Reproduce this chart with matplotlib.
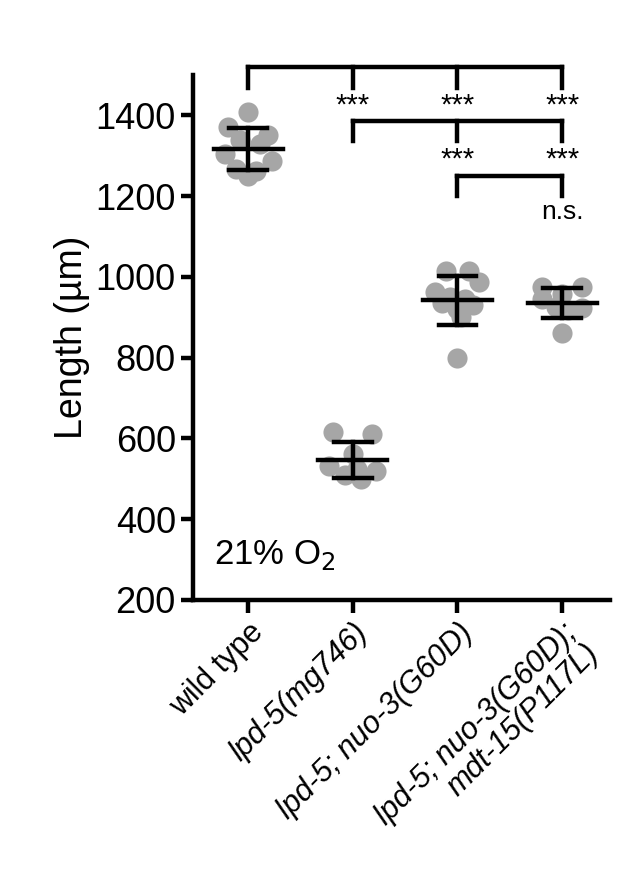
import matplotlib.pyplot as plt
import numpy as np

plt.rcParams['font.family'] = ['Liberation Sans', 'DejaVu Sans']

labels = ["wild type", "lpd-5(mg746)", "lpd-5; nuo-3(G60D)", "lpd-5; nuo-3(G60D);\nmdt-15(P117L)"]
wt = [1408, 1372, 1352, 1340, 1330, 1305, 1288, 1268, 1262, 1250]
lpd5 = [615, 612, 562, 532, 520, 510, 500, 525]
nuo3 = [1015, 1015, 988, 962, 950, 945, 935, 930, 920, 900, 800]
mdt15 = [975, 975, 958, 945, 922, 925, 918, 862]
groups = [wt, lpd5, nuo3, mdt15]
offsets = [
    [0, -0.25, 0.25, -0.1, 0.15, -0.3, 0.3, -0.15, 0.1, 0.0],
    [-0.25, 0.25, 0.0, -0.3, 0.3, -0.1, 0.1, 0.05],
    [-0.15, 0.15, 0.28, -0.28, -0.1, 0.1, -0.2, 0.2, 0.0, 0.05, 0.0],
    [-0.25, 0.25, 0.0, -0.25, 0.25, -0.08, 0.08, 0.0],
]
lw = 3.2

fig = plt.figure(figsize=(6.23, 8.83), dpi=100)
ax = fig.add_axes([0.31, 0.3205, 0.669, 0.5945])
for i, (g, off) in enumerate(zip(groups, offsets)):
    ax.scatter(i + np.array(off) * 0.75, g, s=210, color="#a6a6a6", zorder=2, linewidths=0)
    m, sd = np.mean(g), np.std(g, ddof=1)
    ax.plot([i - 0.33, i + 0.33], [m, m], color="black", lw=lw, zorder=3)
    ax.plot([i, i], [m - sd, m + sd], color="black", lw=lw, zorder=3)
    for v in (m - sd, m + sd):
        ax.plot([i - 0.18, i + 0.18], [v, v], color="black", lw=lw, zorder=3)

# significance brackets
brackets = [(0, [1, 2, 3], 1519), (1, [2, 3], 1386), (2, [3], 1250)]
for start, ends, y in brackets:
    ax.plot([start, ends[-1]], [y, y], color="black", lw=lw, clip_on=False, solid_capstyle="projecting")
    for x in [start] + ends:
        ax.plot([x, x], [y, y - 50], color="black", lw=lw, clip_on=False)
stars = [(1, 1425), (2, 1425), (3, 1425), (2, 1291), (3, 1291)]
for x, y in stars:
    ax.text(x, y, "***", ha="center", va="center", fontsize=21)
ax.text(3, 1162, "n.s.", ha="center", va="center", fontsize=19)
ax.text(-0.33, 312, "21% O$_2$", fontsize=25, ha="left", va="center")

ax.set_xlim(-0.525, 3.457)
ax.set_ylim(200, 1500)
ax.set_yticks([200, 400, 600, 800, 1000, 1200, 1400])
ax.set_xticks(range(4))
ax.set_xticklabels(labels, rotation=45, ha="right", rotation_mode="anchor", fontsize=22, style="italic",
                   linespacing=1.0)
ax.get_xticklabels()[0].set_style("normal")
ax.tick_params(axis="y", labelsize=26, width=lw, length=9)
ax.tick_params(axis="x", width=lw, length=9)
ax.set_ylabel("Length (µm)", fontsize=27)
for s in ["top", "right"]:
    ax.spines[s].set_visible(False)
for s in ["left", "bottom"]:
    ax.spines[s].set_linewidth(lw)
fig.savefig("out.png", dpi=100)
